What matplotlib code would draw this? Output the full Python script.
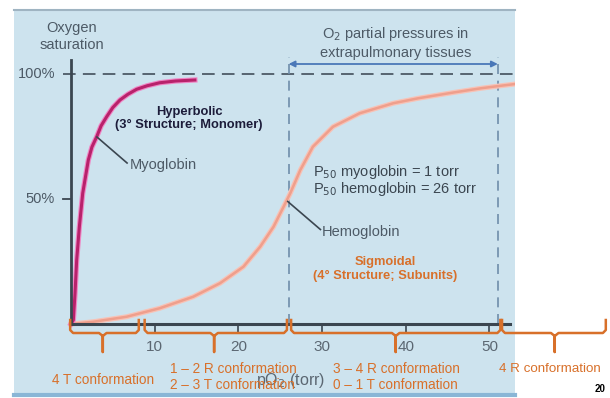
import matplotlib
matplotlib.use('Agg')
from matplotlib import pyplot as plt

# myoglobin curve (torr, % saturation)
myo_x = [0, 0.28, 0.48, 0.68, 1.0, 1.4, 2.07, 2.5, 3.07, 3.6, 4.26, 5.0, 5.85, 6.8, 7.85, 9.1, 10.6, 12.5, 14.8]
myo_y = [0, 1.6, 12.3, 25.6, 38.9, 52.3, 65.6, 70.8, 74.9, 79.3, 82.9, 86.6, 89.6, 91.9, 93.9, 95.3, 96.5, 97.2, 97.6]

# hemoglobin curve
hb_x = [0, 2.67, 6.65, 10.6, 14.6, 17.8, 20.6, 22.6, 24.2, 25.4, 26.2, 27.4, 28.9,
        31.3, 34.5, 38.5, 41.5, 45.7, 49.0, 51.6, 53.1]
hb_y = [0, 0.9, 2.9, 6.3, 10.9, 16.3, 22.9, 30.9, 38.9, 46.9, 52.3, 61.6, 70.9,
        78.9, 84.3, 88.3, 90.3, 92.6, 94.3, 95.4, 96.0]

xticks = [10, 20, 30, 40, 50]
tissue_range = [26, 51]

brace_spans = [(-0.1, 8.1), (8.8, 25.8), (26.3, 51.3), (51.5, 63.9)]
brace_tips = [3.8, 17.1, 38.8, 57.8]

grey = '#4d5a66'
axis_col = '#3b4650'
orange = '#d8702a'
blue_panel = '#cde3ee'

plt.rcParams['font.family'] = ['Liberation Sans', 'DejaVu Sans']

fig = plt.figure(figsize=(6.10, 3.98), dpi=100)
ax = fig.add_axes([14 / 610, 3 / 398, 501 / 610, 385 / 398])
ax.set_facecolor(blue_panel)
ax.set_xlim(-6.81, 53.05)
ax.set_ylim(-28.4, 125.6)
ax.set_xticks([])
ax.set_yticks([])
for s in ['left', 'right']:
    ax.spines[s].set_visible(False)
ax.spines['top'].set_color('#9fb4c2')
ax.spines['top'].set_linewidth(1.5)
ax.spines['bottom'].set_color('#8ab6d6')
ax.spines['bottom'].set_linewidth(3)

# dashed guide lines
ax.plot([-1.0, 53.05], [100, 100], color=grey, lw=1.3, dashes=(7, 4), zorder=2)
for t in tissue_range:
    ax.plot([t, t], [0, 106.8], color='#6f8daa', lw=1.2, dashes=(6, 4), zorder=2)
ax.annotate('', xy=(tissue_range[0], 104), xytext=(tissue_range[1], 104),
            arrowprops=dict(arrowstyle='<|-|>', color='#4a78b8', lw=1.3,
                            mutation_scale=9, shrinkA=0, shrinkB=0))

# curves
ax.plot(hb_x, hb_y, color='#f7c2b6', lw=3.6, solid_joinstyle='round', zorder=3)
ax.plot(hb_x, hb_y, color='#ef9f8c', lw=1.8, solid_joinstyle='round', zorder=3)
ax.plot(myo_x, myo_y, color='#ef86c4', lw=3.8, solid_joinstyle='round', zorder=4)
ax.plot(myo_x, myo_y, color='#b8226b', lw=2.2, solid_joinstyle='round', zorder=4)

# axes lines
ax.plot([0, 0], [0, 105.6], color=axis_col, lw=2, zorder=5)
ax.plot([0, 52.4], [0, 0], color=axis_col, lw=2.2, zorder=5)
ax.plot([-1.0, 0], [50, 50], color=axis_col, lw=1.3, zorder=5)
for t in xticks:
    ax.plot([t, t], [0, -3.2], color=axis_col, lw=1.2, zorder=5)
    ax.text(t, -9.3, str(t), ha='center', va='center', fontsize=11, color='#5b6772')

ax.text(-1.91, 100, '100%', ha='right', va='center', fontsize=10.5, color=grey)
ax.text(-1.91, 50, '50%', ha='right', va='center', fontsize=10.5, color=grey)
ax.text(0.1, 114.9, 'Oxygen\nsaturation', ha='center', va='center', fontsize=10.5,
        color=grey, linespacing=1.3)
ax.text(26.2, -22.4, 'pO$_2$ (torr)', ha='center', va='center', fontsize=11.5,
        color='#5b6772', zorder=1)
ax.text(38.8, 112.6, 'O$_2$ partial pressures in\nextrapulmonary tissues', ha='center',
        va='center', fontsize=10.5, color=grey, linespacing=1.2)

ax.text(14.1, 82.2, 'Hyperbolic\n(3° Structure; Monomer)', ha='center', va='center',
        fontsize=9.3, fontweight='bold', color='#1c1c3a', linespacing=1.2)
ax.plot([3.1, 6.7], [74.8, 64.4], color=axis_col, lw=1.2, zorder=5)
ax.text(7.0, 63.6, 'Myoglobin', ha='left', va='center', fontsize=10.5, color=grey)
ax.text(28.9, 60.8, 'P$_{50}$ myoglobin = 1 torr', ha='left', va='center', fontsize=10.5,
        color='#3b4650')
ax.text(28.9, 53.8, 'P$_{50}$ hemoglobin = 26 torr', ha='left', va='center', fontsize=10.5,
        color='#3b4650')
ax.plot([25.9, 29.8], [49.0, 37.8], color=axis_col, lw=1.2, zorder=5)
ax.text(30.0, 36.8, 'Hemoglobin', ha='left', va='center', fontsize=10.5, color=grey)
ax.text(37.5, 22.0, 'Sigmoidal\n(4° Structure; Subunits)', ha='center', va='center',
        fontsize=9.3, fontweight='bold', color=orange, linespacing=1.2)

# braces under the x axis
for (a, b), c in zip(brace_spans, brace_tips):
    bx = [a, a, a + 0.35, c - 0.45, c, c, c, c + 0.45, b - 0.35, b, b]
    by = [1.6, -2.4, -3.6, -3.6, -4.8, -11.2, -4.8, -3.6, -3.6, -2.4, 1.6]
    ax.plot(bx, by, color=orange, lw=1.8, clip_on=False, zorder=6,
            solid_joinstyle='round')

ax.text(3.8, -22.4, '4 T conformation', ha='center', va='center', fontsize=9.8,
        color=orange, zorder=7)
ax.text(11.8, -21.3, '1 – 2 R conformation\n2 – 3 T conformation', ha='left', va='center',
        fontsize=9.8, color=orange, linespacing=1.2, zorder=7)
ax.text(31.3, -21.3, '3 – 4 R conformation\n0 – 1 T conformation', ha='left', va='center',
        fontsize=9.8, color=orange, linespacing=1.2, clip_on=False, zorder=7)
ax.text(51.1, -18, '4 R conformation', ha='left', va='center', fontsize=9.6,
        color=orange, clip_on=False, zorder=7)
ax.text(63.2, -26, '20', ha='center', va='center', fontsize=7, fontweight='bold',
        color='black', clip_on=False)

fig.savefig('out.png', dpi=100)
